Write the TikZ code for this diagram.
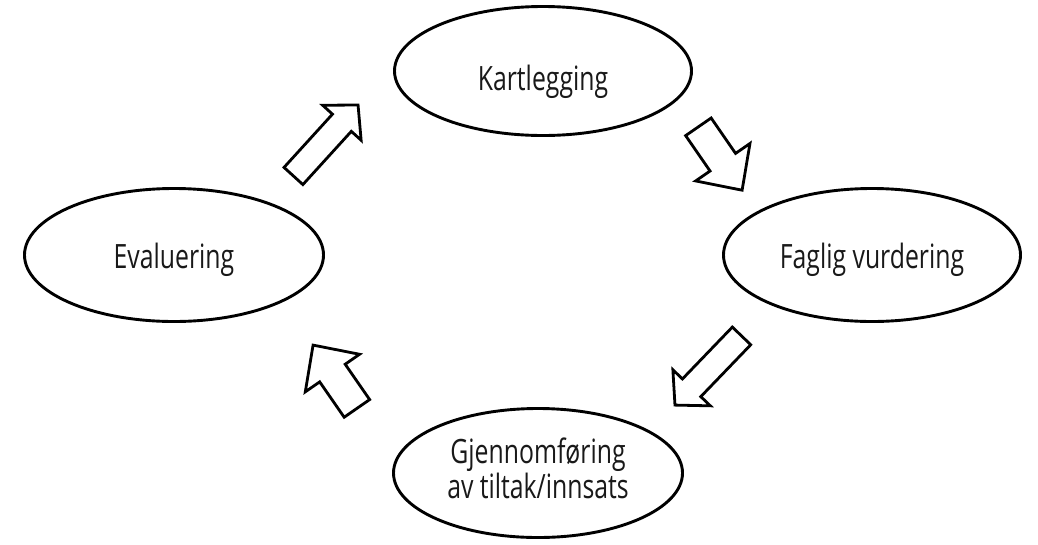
\documentclass[tikz,border=0pt]{standalone}
\usepackage{fontspec}
\setmainfont[FakeStretch=0.74]{Open Sans}
\usetikzlibrary{shapes.geometric}
\definecolor{ink}{RGB}{25,25,25}
\tikzset{
  stage/.style={ellipse, draw=black, line width=2.9pt, inner sep=0pt, fill=white},
  stagetext/.style={font=\fontsize{33.5}{29}\selectfont, text=ink, align=center,
    anchor=base, inner sep=0pt},
  blockarrow/.style={draw=black, line width=2.8pt, line join=miter, fill=white},
  % slim arrow: length 96, shaft 25.5, head 52 wide and 24 long
  longarrow/.pic={
    \draw[blockarrow] (-48,-12.75) -- (24,-12.75) -- (24,-26) -- (48,0)
      -- (24,26) -- (24,12.75) -- (-48,12.75) -- cycle;
  },
  % stubby arrow: length 77, shaft 31, head 66 wide and 34 long
  shortarrow/.pic={
    \draw[blockarrow] (-38.5,-15.5) -- (4.5,-15.5) -- (4.5,-33) -- (38.5,0)
      -- (4.5,33) -- (4.5,15.5) -- (-38.5,15.5) -- cycle;
  }
}
\begin{document}
\begin{tikzpicture}[x=1pt,y=-1pt]
  \useasboundingbox[fill=white] (0,0) rectangle (1038,544);

  % the four stages of the cycle
  \node[stage, minimum width=297pt, minimum height=129pt] (kart) at (543,71) {};
  \node[stage, minimum width=297pt, minimum height=133pt] (fag)  at (872,255) {};
  \node[stage, minimum width=289pt, minimum height=129pt] (gjen) at (538,473) {};
  \node[stage, minimum width=299pt, minimum height=133pt] (eval) at (174,255) {};

  % labels sit on their baselines (the last line for the two-line one)
  \node[stagetext] (kartT) at ([yshift=-19.5pt]kart.center) {Kartlegging};
  \node[stagetext] (fagT)  at ([yshift=-13pt]fag.center)   {Faglig vurdering};
  \node[stagetext] (gjenT) at ([yshift=-25pt]gjen.center)  {Gjennomføring\\av tiltak/innsats};
  \node[stagetext] (evalT) at ([yshift=-13pt]eval.center)  {Evaluering};

  % hollow arrows running clockwise between the stages
  \pic[rotate=47.7]   at (325.75,140.5) {longarrow};
  \pic[rotate=-55.4]  at (720.25,158.5) {shortarrow};
  \pic[rotate=-133.9] at (708.25,370.5) {longarrow};
  \pic[rotate=124.7]  at (335,376.75)   {shortarrow};
\end{tikzpicture}
\end{document}
